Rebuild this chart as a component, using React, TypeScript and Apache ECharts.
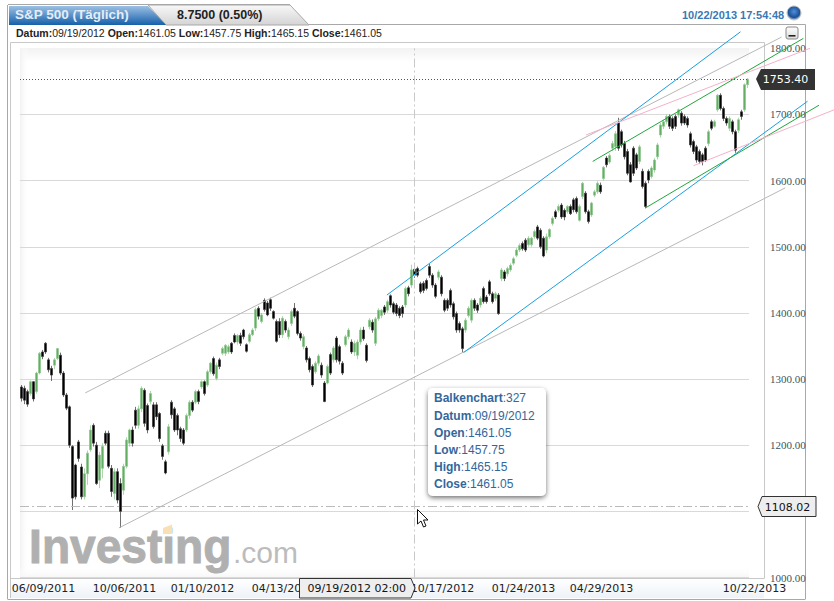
import React, { useEffect, useRef } from "react";
import * as echarts from "echarts";

// [open, close, low, high], oldest first
const priceBars: number[][] = [
[1288,1271,1266,1291],[1286,1268,1262,1290],[1281,1262,1258,1284],[1278,1296,1275,1298],[1296,1270,1266,1297],
[1281,1309,1278,1311],[1309,1339,1307,1341],[1341,1334,1330,1344],[1354,1341,1338,1356],[1329,1314,1310,1332],
[1316,1306,1297,1320],[1321,1329,1315,1332],[1331,1346,1329,1347],[1336,1309,1306,1340],[1309,1276,1273,1312],
[1276,1256,1253,1279],[1258,1200,1196,1260],[1198,1120,1102,1200],[1170,1122,1118,1172],[1205,1180,1175,1208],
[1167,1122,1118,1172],[1122,1157,1118,1165],[1157,1188,1140,1192],[1193,1223,1190,1230],[1230,1203,1198,1233],
[1200,1142,1140,1205],[1147,1185,1135,1190],[1165,1198,1150,1203],[1218,1203,1200,1222],[1218,1168,1165,1222],
[1165,1130,1122,1170],[1127,1160,1118,1165],[1160,1117,1112,1165],[1142,1100,1075,1150],[1132,1168,1125,1172],
[1168,1208,1165,1212],[1203,1223,1198,1225],[1223,1203,1198,1228],[1253,1230,1225,1258],[1230,1255,1225,1260],
[1255,1286,1250,1289],[1283,1233,1228,1286],[1260,1223,1218,1263],[1266,1278,1262,1282],[1261,1228,1225,1265],
[1261,1243,1238,1265],[1248,1210,1205,1250],[1199,1183,1178,1202],[1175,1158,1156,1178],[1190,1228,1186,1232],
[1265,1246,1240,1268],[1255,1223,1220,1258],[1245,1223,1215,1248],[1225,1210,1205,1228],[1223,1203,1200,1226],
[1223,1245,1220,1248],[1245,1265,1240,1268],[1265,1253,1250,1268],[1265,1281,1262,1284],[1281,1266,1262,1284],
[1288,1296,1285,1298],[1296,1278,1275,1298],[1291,1311,1288,1314],[1311,1324,1308,1326],[1331,1308,1305,1334],
[1301,1321,1298,1325],[1329,1319,1315,1332],[1339,1346,1336,1349],[1339,1351,1335,1353],[1341,1349,1338,1352],
[1354,1341,1338,1356],[1366,1356,1354,1369],[1356,1366,1352,1368],[1366,1354,1350,1370],[1374,1364,1360,1376],
[1352,1342,1340,1354],[1357,1367,1354,1370],[1367,1374,1365,1377],[1377,1405,1373,1408],[1407,1395,1390,1410],
[1387,1397,1384,1400],[1419,1405,1402,1422],[1415,1397,1395,1418],[1420,1407,1403,1423],[1402,1392,1390,1404],
[1387,1357,1355,1390],[1387,1367,1362,1392],[1367,1392,1362,1395],[1387,1374,1370,1390],[1364,1374,1360,1378],
[1384,1402,1380,1405],[1407,1395,1392,1415],[1402,1369,1366,1404],[1369,1362,1358,1372],[1349,1364,1345,1368],
[1347,1329,1325,1350],[1331,1314,1310,1334],[1319,1291,1288,1322],[1311,1324,1308,1327],[1324,1335,1320,1338],
[1321,1306,1302,1325],[1294,1266,1265,1297],[1294,1319,1292,1322],[1337,1309,1306,1340],[1329,1347,1325,1350],
[1362,1329,1325,1365],[1349,1327,1322,1352],[1324,1309,1306,1327],[1352,1364,1349,1367],[1364,1374,1360,1377],
[1356,1341,1338,1360],[1341,1354,1335,1358],[1336,1356,1330,1360],[1356,1374,1352,1378],[1374,1361,1358,1379],
[1351,1328,1325,1354],[1379,1389,1375,1392],[1386,1374,1370,1390],[1354,1391,1350,1394],[1391,1404,1388,1407],
[1396,1404,1392,1406],[1409,1401,1397,1412],[1404,1417,1400,1420],[1426,1412,1408,1428],[1414,1401,1398,1417],
[1412,1399,1395,1415],[1407,1396,1392,1410],[1409,1399,1393,1412],[1412,1437,1408,1440],[1438,1429,1425,1441],
[1442,1465,1438,1473],[1466,1457,1453,1469],[1467,1457,1454,1470],[1444,1432,1429,1447],[1445,1434,1430,1448],
[1449,1437,1434,1452],[1470,1457,1453,1474],[1457,1442,1438,1460],[1442,1425,1422,1445],[1454,1462,1450,1465],
[1454,1429,1425,1457],[1419,1404,1401,1422],[1419,1407,1403,1422],[1434,1412,1408,1437],[1414,1394,1390,1417],
[1399,1374,1370,1402],[1384,1374,1370,1387],[1376,1346,1340,1379],[1374,1389,1370,1392],[1396,1407,1393,1410],
[1389,1419,1385,1422],[1419,1407,1403,1422],[1412,1404,1400,1415],[1412,1422,1408,1425],[1437,1417,1414,1440],
[1424,1417,1414,1427],[1447,1429,1426,1450],[1429,1417,1414,1432],[1422,1429,1418,1432],[1427,1399,1397,1430],
[1452,1465,1448,1468],[1462,1452,1448,1465],[1459,1467,1455,1470],[1465,1472,1462,1475],[1475,1482,1472,1485],
[1487,1495,1484,1498],[1495,1502,1492,1505],[1505,1497,1494,1508],[1510,1495,1492,1513],[1503,1513,1500,1516],
[1503,1513,1500,1515],[1515,1523,1512,1526],[1530,1513,1510,1533],[1525,1500,1497,1528],[1513,1486,1484,1516],
[1495,1515,1490,1520],[1515,1526,1512,1528],[1535,1543,1532,1546],[1553,1545,1542,1556],[1555,1561,1552,1564],
[1563,1545,1542,1566],[1555,1545,1540,1558],[1553,1561,1550,1563],[1561,1550,1548,1564],[1571,1556,1552,1574],
[1573,1553,1550,1576],[1540,1561,1538,1564],[1576,1596,1572,1598],[1581,1553,1550,1584],[1553,1538,1535,1556],
[1548,1566,1545,1568],[1578,1583,1575,1586],[1583,1596,1580,1599],[1593,1583,1580,1597],[1603,1620,1600,1622],
[1634,1624,1620,1637],[1628,1638,1625,1641],[1649,1656,1645,1660],[1651,1671,1645,1675],[1687,1649,1645,1695],
[1674,1654,1650,1677],[1656,1636,1632,1660],[1644,1611,1608,1648],[1624,1598,1597,1628],[1649,1611,1607,1652],
[1639,1619,1616,1642],[1629,1651,1625,1654],[1614,1591,1588,1618],[1596,1561,1558,1599],[1614,1601,1596,1617],
[1606,1619,1603,1622],[1616,1631,1612,1634],[1636,1654,1632,1657],[1669,1684,1665,1687],[1682,1689,1678,1692],
[1689,1697,1685,1700],[1697,1682,1678,1700],[1694,1679,1675,1697],[1697,1682,1678,1700],[1699,1707,1695,1709],
[1702,1687,1683,1705],[1697,1687,1684,1700],[1694,1684,1680,1697],[1671,1654,1650,1674],[1659,1644,1640,1662],
[1651,1631,1627,1654],[1644,1629,1625,1647],[1639,1629,1623,1642],[1649,1631,1628,1652],[1656,1674,1652,1677],
[1689,1679,1676,1692],[1682,1689,1680,1692],[1707,1729,1704,1731],[1729,1709,1706,1732],[1709,1694,1690,1712],
[1694,1687,1683,1697],[1679,1694,1675,1697],[1689,1674,1670,1692],[1674,1646,1642,1677],[1676,1692,1672,1695],
[1704,1697,1692,1707],[1707,1745,1704,1747],[1745,1753.4,1740,1755],
];

// date ticks: position in priceBars -> label
const tickBars = [5, 32, 58, 85, 138, 165, 191, 242];
const tickDates = ["06/09/2011", "10/06/2011", "01/10/2012", "04/13/2012", "10/17/2012", "01/24/2013", "04/29/2013", "10/22/2013"];
const categories = priceBars.map((_, i) => {
  const k = tickBars.indexOf(i);
  return k >= 0 ? tickDates[k] : "";
});

const yTicksHidden = [1100];
const lastPrice = 1753.4;
const cursorPrice = 1108.02;
const cursorBar = 327;
const barCount = 604;

// trend lines: bar number, price, bar number, price
const grayLines = [[54, 1279, 631, 1817], [82, 1075, 634, 1589]];
const blueLines = [[304, 1427, 597, 1825], [367.5, 1340, 652.5, 1720]];
const greenLines = [[474.5, 1629, 649, 1815], [518.5, 1559, 662, 1714]];
const pinkLines = [[469, 1669, 654.5, 1800], [558, 1622.5, 674.5, 1707]];

const tooltipRows = [
  ["Balkenchart", "327"],
  ["Datum", "09/19/2012"],
  ["Open", "1461.05"],
  ["Low", "1457.75"],
  ["High", "1465.15"],
  ["Close", "1461.05"],
];
const titleText = "S&P 500 (Täglich)";
const changeText = "8.7500 (0.50%)";
const clockText = "10/22/2013 17:54:48";
const cursorDateText = "09/19/2012 02:00";

const SANS = '"Liberation Sans", Arial, sans-serif';
const DEJAVU = '"DejaVu Sans", sans-serif';

function grad(x2: number, y2: number, c0: string, c1: string) {
  return { type: "linear", x: 0, y: 0, x2, y2, colorStops: [{ offset: 0, color: c0 }, { offset: 1, color: c1 }] };
}

function line(x1: number, y1: number, x2: number, y2: number, stroke: string, z = -1) {
  return { type: "line", z, silent: true, shape: { x1, y1, x2, y2 }, style: { stroke, lineWidth: 1 } };
}

function label(text: string, x: number, y: number, fill: string, font: string, z = 110, align = "left") {
  return {
    type: "text", z, x, y, silent: true,
    style: { text, fill, font, align, textAlign: align, verticalAlign: "middle", textVerticalAlign: "middle" },
  };
}

function buildGraphic() {
  const rich = {
    b: { fontWeight: "bold", fontSize: 10.5, fontFamily: "Liberation Sans", fill: "#222" },
    r: { fontSize: 10.5, fontFamily: "Liberation Sans", fill: "#222" },
  };
  const tipRich = {
    b: { fontWeight: "bold", fontSize: 12, fontFamily: "Liberation Sans", fill: "#33679c" },
    r: { fontSize: 12, fontFamily: "Liberation Sans", fill: "#33679c" },
  };
  const datum = tooltipRows.slice(1);
  const datumText = datum.map(([k, v], i) => `{b|${k}:}{r|${v}${i < datum.length - 1 ? " " : ""}}`).join("");
  const tipY = [398.3, 415.5, 432.5, 449.5, 466.5, 483.7];
  return [
    // panel frame and header
    { type: "rect", z: -3, silent: true, shape: { x: 8, y: 25, width: 797, height: 574 }, style: { fill: "#fff" } },
    { type: "rect", z: -2, silent: true, shape: { x: 10, y: 578, width: 754, height: 20 }, style: { fill: grad(0, 1, "#ffffff", "#eef3f8") } },
    line(7.5, 5, 7.5, 599, "#a8a8a8"),
    line(7.5, 599.5, 805.5, 599.5, "#a8a8a8"),
    line(805.5, 24.5, 805.5, 599, "#a8a8a8"),
    line(309, 24.5, 805.5, 24.5, "#a8a8a8"),
    line(10.5, 42.5, 764.5, 42.5, "#c8c8c8"),
    line(10.5, 42.5, 10.5, 598, "#c8c8c8"),
    line(764.5, 42.5, 764.5, 578.5, "#c8c8c8"),
    line(10.5, 578.5, 764.5, 578.5, "#c8c8c8"),
    { type: "polygon", z: 100, silent: true, shape: { points: [[148, 5], [290, 5], [309, 25], [166, 25]] }, style: { fill: grad(0, 1, "#f8f8f8", "#d4d4d4"), stroke: "#a8a8a8", lineWidth: 1 } },
    { type: "polygon", z: 101, silent: true, shape: { points: [[9, 6], [148, 6], [166, 25], [9, 25]] }, style: { fill: grad(0, 1, "#9cc0e4", "#1560aa") } },
    line(8, 4.5, 290, 4.5, "#a8a8a8", 100),
    label(titleText, 15, 14.5, "#e4edf6", `bold 13.5px ${SANS}`),
    label(changeText, 177, 14.5, "#222", `bold 12.5px ${SANS}`),
    { type: "text", z: 110, silent: true, x: 16, y: 33, style: { text: datumText, rich, verticalAlign: "middle", textVerticalAlign: "middle", font: `10.5px ${SANS}` } },
    label(clockText, 682, 14.5, "#3a78b5", `bold 11px ${SANS}`),
    { type: "circle", z: 110, silent: true, shape: { cx: 794, cy: 13, r: 7 }, style: { fill: { type: "radial", x: 0.5, y: 0.4, r: 0.6, colorStops: [{ offset: 0, color: "#4f8fd8" }, { offset: 0.7, color: "#1c4f96" }, { offset: 1, color: "#b8c8d8" }] }, stroke: "#c4c4c4", lineWidth: 1 } },
    { type: "rect", z: 110, silent: true, shape: { x: 786, y: 27, width: 12, height: 12, r: 2 }, style: { fill: grad(0, 1, "#fdfdfd", "#dcdcdc"), stroke: "#8a8a8a", lineWidth: 1 } },
    { type: "rect", z: 111, silent: true, shape: { x: 788.5, y: 35, width: 7, height: 1.6 }, style: { fill: "#222" } },

    // plot area shading
    { type: "rect", z: -2, silent: true, shape: { x: 20, y: 48, width: 729, height: 14 }, style: { fill: grad(0, 1, "#f2f2f2", "#ffffff") } },
    { type: "rect", z: -2, silent: true, shape: { x: 20, y: 48, width: 9, height: 530 }, style: { fill: grad(1, 0, "#f2f2f2", "rgba(255,255,255,0)") } },
    { type: "rect", z: -2, silent: true, shape: { x: 20, y: 566, width: 729, height: 12 }, style: { fill: grad(0, 1, "rgba(255,255,255,0)", "#f6f6f6") } },

    // watermark
    { type: "text", z: -1, silent: true, x: 28, y: 546, scaleX: 0.96, originX: 28, originY: 546, style: { text: "Investing", fill: "#b0b0b0", stroke: "#b0b0b0", lineWidth: 1, font: `bold 48px ${SANS}`, verticalAlign: "middle", textVerticalAlign: "middle" } },
    { type: "polygon", z: -1, silent: true, shape: { points: [[163, 528], [172, 524.5], [172, 534], [163, 534]] }, style: { fill: "#f9e0b4" } },
    { type: "text", z: -1, silent: true, x: 233, y: 552, style: { text: ".com", fill: "#bcbcbc", font: `30px ${SANS}`, verticalAlign: "middle", textVerticalAlign: "middle" } },

    // price tags
    { type: "polygon", z: 100, silent: true, shape: { points: [[756, 79], [761, 69], [815, 69], [815, 90], [761, 90]] }, style: { fill: "#333333" } },
    label(lastPrice.toFixed(2), 785.5, 79.5, "#ffffff", `11px ${DEJAVU}`, 110, "center"),
    { type: "polygon", z: 100, silent: true, shape: { points: [[758, 506.5], [762, 496.5], [816, 496.5], [816, 516.5], [762, 516.5]] }, style: { fill: "#eeeeee", stroke: "#333", lineWidth: 1 } },
    label(cursorPrice.toFixed(2), 787.5, 507, "#111", `11px ${DEJAVU}`, 110, "center"),

    // date tag under the crosshair
    { type: "polygon", z: 100, silent: true, shape: { points: [[299.5, 578.5], [411, 578.5], [415, 588], [411, 598], [299.5, 598]] }, style: { fill: "#eeeeee", stroke: "#333", lineWidth: 1 } },
    label(cursorDateText, 307.5, 588.5, "#111", `11px ${DEJAVU}`),

    // tooltip
    { type: "rect", z: 100, silent: true, shape: { x: 428, y: 388, width: 118, height: 108, r: 5 }, style: { fill: "#ffffff", shadowBlur: 5, shadowOffsetY: 2, shadowColor: "rgba(0,0,0,0.55)" } },
    ...tooltipRows.map(([k, v], i) => ({
      type: "text", z: 110, silent: true, x: 434, y: tipY[i],
      style: { text: `{b|${k}}{r|:${v}}`, rich: tipRich, verticalAlign: "middle", textVerticalAlign: "middle", font: `12px ${SANS}` },
    })),

    // mouse pointer
    { type: "polygon", z: 120, silent: true, shape: { points: [[417.5, 509.5], [417.5, 524], [421, 521], [423.5, 527], [426, 526], [423.5, 520], [428, 520]] }, style: { fill: "#ffffff", stroke: "#111", lineWidth: 1 } },
  ];
}

function trendSeries(name: string, lines: number[][], color: string) {
  return {
    name,
    type: "custom",
    xAxisIndex: 1,
    data: lines,
    silent: true,
    clip: false,
    z: 5,
    encode: { x: [0, 2], y: [1, 3] },
    renderItem: (_p: any, api: any) => {
      const a = api.coord([api.value(0), api.value(1)]);
      const b = api.coord([api.value(2), api.value(3)]);
      return {
        type: "line",
        shape: { x1: a[0], y1: a[1], x2: b[0], y2: b[1] },
        style: { stroke: color, lineWidth: 1, fill: "none" },
      };
    },
  };
}

export default function App() {
  const ref = useRef<HTMLDivElement>(null);
  useEffect(() => {
    const chart = echarts.init(ref.current!, undefined, { renderer: "svg" });
    chart.setOption({
      animation: false,
      backgroundColor: "#ffffff",
      grid: { left: 20, right: 85, top: 48.3, bottom: 23.5 },
      xAxis: [
        {
          type: "category",
          data: categories,
          axisTick: { show: false },
          axisLine: { show: false },
          splitLine: { show: false },
          axisLabel: {
            interval: (i: number) => categories[i] !== "",
            color: "#222",
            fontFamily: "DejaVu Sans",
            fontSize: 11,
            margin: 5,
            padding: [0, 0, 0, 14],
          },
        },
        { type: "value", min: 0, max: barCount, show: false },
      ],
      yAxis: {
        type: "value",
        position: "right",
        min: 1000,
        max: 1800,
        interval: 100,
        axisLine: { show: false },
        axisTick: { show: false },
        splitLine: {
          lineStyle: { color: ["#d9d9d9", "#d9d9d9", "#d9d9d9", "#d9d9d9", "#d9d9d9", "#d9d9d9", "#d9d9d9", "#d9d9d9", "rgba(0,0,0,0)"], width: 1 },
        },
        axisLabel: {
          margin: 21,
          padding: [0, 0, 2, 0],
          color: "#3a5560",
          fontFamily: "Liberation Sans Narrow",
          fontSize: 11,
          formatter: (v: number) => (yTicksHidden.includes(v) ? "" : v.toFixed(2)),
        },
      },
      series: [
        {
          name: "S&P 500",
          type: "candlestick",
          data: priceBars,
          barWidth: 2,
          itemStyle: { color: "#62ae62", color0: "#000000", borderColor: "#8cc58c", borderColor0: "#333333", borderWidth: 0.7 },
          z: 4,
        },
        trendSeries("gray", grayLines, "#b8b8b8"),
        trendSeries("blue", blueLines, "#17a0e2"),
        trendSeries("green", greenLines, "#21a63c"),
        trendSeries("pink", pinkLines, "#f5b0ca"),
        {
          name: "marks",
          type: "line",
          xAxisIndex: 1,
          data: [],
          silent: true,
          symbol: "none",
          z: 3,
          markLine: {
            silent: true,
            symbol: "none",
            animation: false,
            label: { show: false },
            data: [
              { yAxis: lastPrice, lineStyle: { color: "#555", type: [1, 2], width: 1 } },
              { yAxis: cursorPrice, lineStyle: { color: "#bbb", type: [9, 3, 2, 3], width: 1 } },
              { xAxis: cursorBar, lineStyle: { color: "#c9c9c9", type: [9, 3, 2, 3], width: 1 } },
            ],
          },
        },
      ],
      graphic: buildGraphic(),
    });
    return () => chart.dispose();
  }, []);
  return <div ref={ref} style={{ position: "fixed", left: 0, top: 0, width: 834, height: 601 }} />;
}
